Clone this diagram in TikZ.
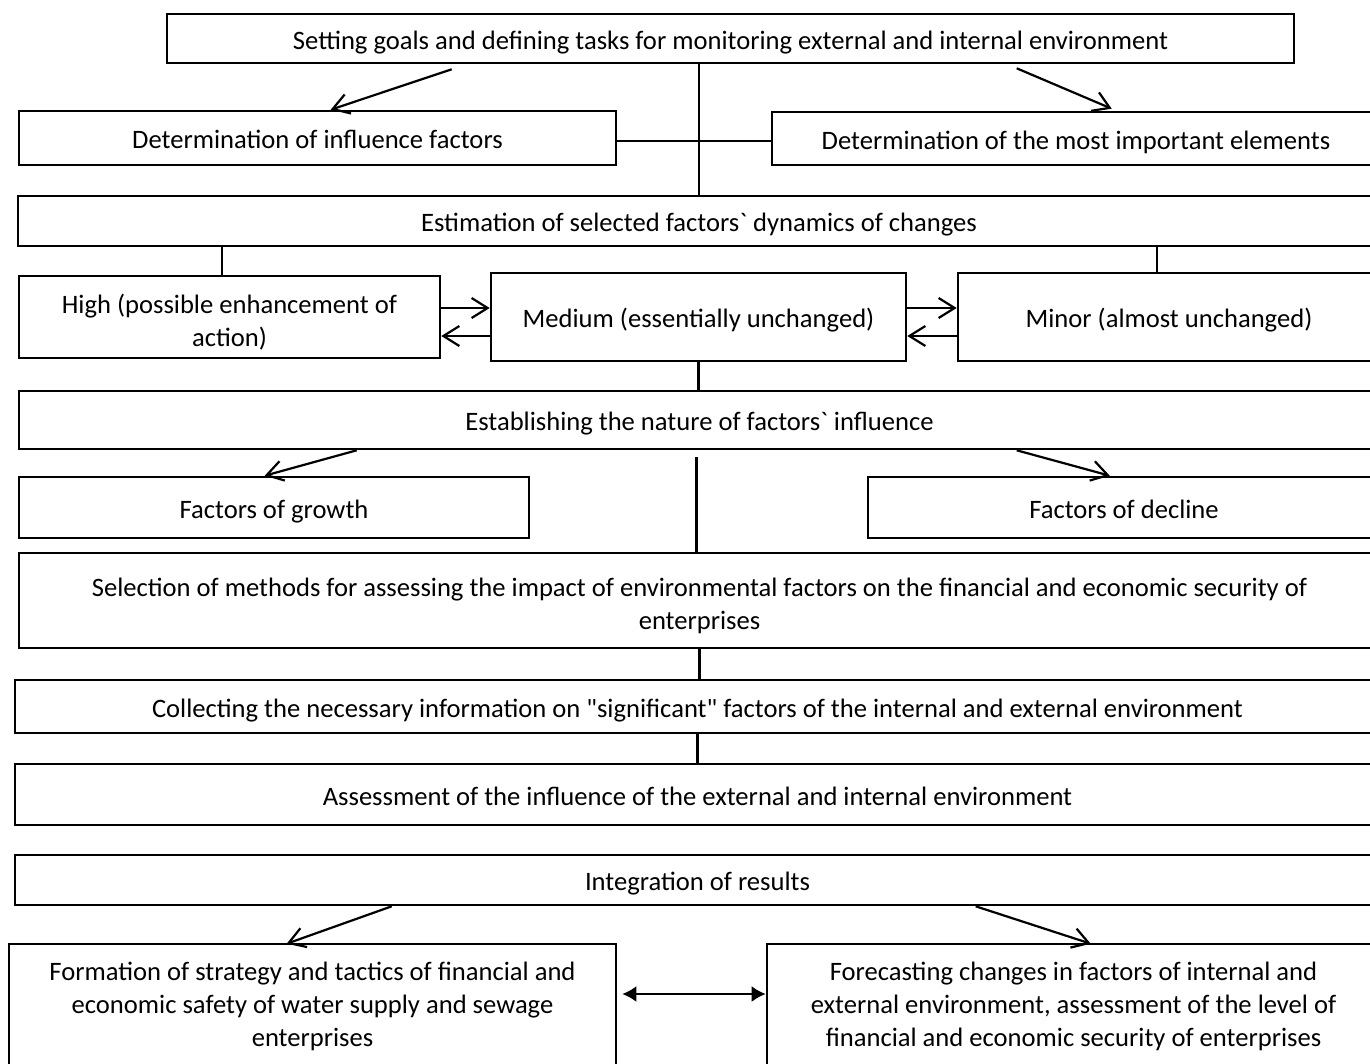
\documentclass[tikz,border=0pt]{standalone}
\usepackage{fontspec}
\setmainfont{Carlito}[Ligatures=TeXOff]
\usetikzlibrary{arrows.meta,calc}
\tikzset{
  box/.style={draw=black, line width=2.6pt, fill=white, inner sep=0pt, align=center,
    font=\fontsize{26.6}{33}\selectfont},
  one/.style={box, text height=26pt, text depth=5pt},
  conn/.style={draw=black, line width=2.2pt},
  barb/.style={conn, -{Straight Barb[length=16pt,width=20pt,line width=2.2pt]}},
  dbl/.style={conn, {Latex[length=14pt,width=16pt]}-{Latex[length=14pt,width=16pt]}}
}
\newcommand{\topstrut}[1]{\rule{0pt}{#1}}
\begin{document}
\begin{tikzpicture}[x=1pt,y=-1pt]
\useasboundingbox (0,0) rectangle (1370,1063);
\clip (0,0) rectangle (1370,1063);
\fill[white] (0,0) rectangle (1370,1063);

\node[one, minimum width=1127pt, minimum height=49pt] (top) at (730.5,38.5)
  {Setting goals and defining tasks for monitoring external and internal environment};
\node[one, minimum width=597pt, minimum height=54pt] (dif) at (317.5,138)
  {Determination of influence factors};
\node[one, minimum width=608pt, minimum height=53pt] (dme) at (1076,138.5)
  {Determination of the most important elements};
\node[one, minimum width=1362pt, minimum height=50pt] (est) at (699,221)
  {Estimation of selected factors` dynamics of changes};
\node[box, minimum width=421pt, minimum height=82pt] (high) at (229.5,317)
  {\topstrut{30pt}High (possible enhancement of\\action)};
\node[one, minimum width=415pt, minimum height=88pt] (med) at (698.5,317)
  {Medium (essentially unchanged)};
\node[one, minimum width=422pt, minimum height=88pt] (minor) at (1169,317)
  {Minor (almost unchanged)};
\node[one, minimum width=1361pt, minimum height=58pt] (estab) at (699.5,420)
  {Establishing the nature of factors` influence};
\node[one, minimum width=510pt, minimum height=61pt] (growth) at (274,507.5)
  {Factors of growth};
\node[one, minimum width=512pt, minimum height=61pt] (decline) at (1124,507.5)
  {Factors of decline};
\node[box, minimum width=1361pt, minimum height=95pt] (sel) at (699.5,600.5)
  {\topstrut{30pt}Selection of methods for assessing the impact of environmental factors on the financial and economic security of\\enterprises};
\node[one, minimum width=1365pt, minimum height=53pt] (coll) at (697.5,706.5)
  {Collecting the necessary information on "significant" factors of the internal and external environment};
\node[one, minimum width=1365pt, minimum height=61pt] (assess) at (697.5,794.5)
  {Assessment of the influence of the external and internal environment};
\node[one, minimum width=1365pt, minimum height=50pt] (integ) at (697.5,880)
  {Integration of results};
\node[box, minimum width=607pt, minimum height=124pt] (form) at (312.5,1006)
  {Formation of strategy and tactics of financial and\\economic safety of water supply and sewage\\enterprises};
\node[box, minimum width=613pt, minimum height=124pt] (fore) at (1073.5,1006)
  {Forecasting changes in factors of internal and\\external environment, assessment of the level of\\financial and economic security of enterprises};

% top section
\draw[conn] (top.south -| est.north) -- (est.north);
\draw[conn] ($(dif.east)+(0,3)$) -- ($(dme.west)+(0,2.5)$);
\draw[barb] ($(top.south west)+(286,5)$) -- ($(dif.north west)+(313,0)$);
\draw[barb] ($(top.south west)+(851,4)$) -- ($(dme.north west)+(341,-2)$);

% estimation to levels
\draw[conn] ($(high.north west)+(204,0)$) coordinate (hs) -- (hs |- est.south);
\draw[conn] ($(minor.north west)+(200,0)$) coordinate (ms) -- (ms |- est.south);
\draw[barb] ($(high.east)+(0,-9)$) -- ($(med.west)+(0,-9)$);
\draw[barb] ($(med.west)+(0,19)$) -- ($(high.east)+(0,19)$);
\draw[barb] ($(med.east)+(0,-9)$) -- ($(minor.west)+(0,-9)$);
\draw[barb] ($(minor.west)+(0,19)$) -- ($(med.east)+(0,19)$);
\draw[conn] (med.south) -- (med.south |- estab.north);

% nature of influence
\draw[barb] ($(estab.south west)+(339,0)$) -- ($(growth.north west)+(247,0)$);
\draw[barb] ($(estab.south west)+(999,0)$) -- ($(decline.north west)+(243,0)$);
\draw[conn] ($(sel.north)+(-3,0)$) coordinate (vs) -- ($(vs |- estab.south)+(0,7)$);

\draw[conn] (sel.south) -- (sel.south |- coll.north);
\draw[conn] (coll.south) -- (coll.south |- assess.north);

% integration
\draw[barb] ($(integ.south west)+(378,0)$) -- ($(form.north west)+(279,1)$);
\draw[barb] ($(integ.south west)+(962,0)$) -- ($(fore.north west)+(325,1)$);
\draw[dbl] ($(form.east)+(5,-12)$) -- ($(fore.west)+(0,-12)$);
\end{tikzpicture}
\end{document}
